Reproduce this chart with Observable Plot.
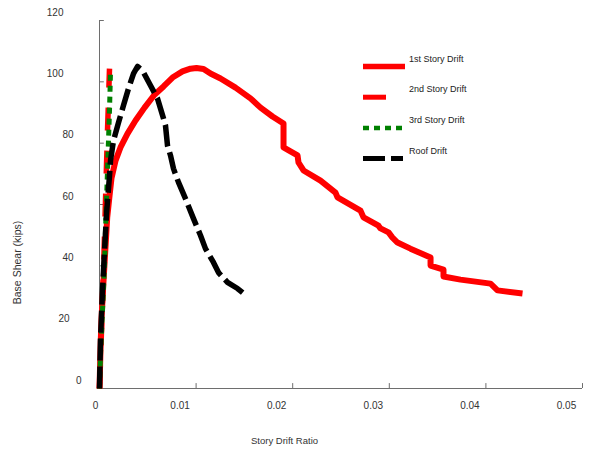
<!DOCTYPE html>
<html><head><meta charset="utf-8">
<script src="https://cdn.jsdelivr.net/npm/d3@7"></script>
<script src="https://cdn.jsdelivr.net/npm/@observablehq/plot@0.6"></script>
<style>
html,body{margin:0;padding:0;background:#fff;}
#wrap{position:relative;width:589px;height:450px;font-family:"Liberation Sans",Arial,sans-serif;}
#wrap svg{display:block;}
#legend{position:absolute;left:0;top:0;pointer-events:none;}
</style></head><body><div id="wrap"></div>
<script>
// ---- data ----
const seriesNames = ["1st Story Drift", "2nd Story Drift", "3rd Story Drift", "Roof Drift"];
const seriesColors = ["#ff0000", "#ff0000", "#008000", "#000000"];
const seriesDash = [null, "23,20", "6,5", "22,6"];
const seriesWidth = [6, 5.5, 5, 5.5];

const drift1 = [0, 0.0001, 0.0002, 0.0004, 0.0006, 0.0008, 0.00104, 0.00124, 0.00166, 0.00217, 0.0029, 0.00373, 0.00466, 0.00569, 0.00663, 0.00756, 0.00859, 0.00942, 0.01004, 0.01077, 0.01149, 0.01253, 0.01408, 0.01563, 0.01667, 0.01791, 0.01905, 0.01905, 0.01977, 0.0205, 0.0206, 0.02112, 0.02288, 0.02443, 0.02464, 0.02702, 0.02733, 0.02888, 0.02909, 0.02992, 0.03033, 0.03085, 0.03219, 0.03427, 0.03427, 0.03561, 0.03561, 0.03737, 0.04048, 0.0412, 0.04379];
const shear1 = [0, 12.4, 22.2, 34.2, 45.0, 55.8, 62.9, 68.5, 74.3, 78.6, 83.1, 87.4, 91.6, 95.8, 98.5, 101.4, 103.4, 104.3, 104.5, 104.2, 102.7, 101.1, 98.1, 94.6, 91.6, 88.7, 86.4, 78.6, 77.3, 76.0, 73.7, 71.1, 67.8, 63.9, 62.3, 58.0, 55.8, 53.1, 52.2, 50.9, 49.2, 47.6, 45.6, 42.7, 40.1, 38.8, 36.5, 35.5, 34.2, 32.0, 31.0];

const drift2 = [0, 0.000104, 0.000207, 0.000311, 0.000414, 0.000518, 0.000621, 0.000725, 0.000828, 0.000932, 0.001035];
const shear2 = [0, 9.1, 18.9, 28.7, 38.5, 49.9, 61.3, 72.7, 84.1, 93.9, 104.3];

const drift3 = [0, 0.000104, 0.000311, 0.000518, 0.000621, 0.000725, 0.000828, 0.000932, 0.001035, 0.001139];
const shear3 = [0, 10.8, 25.4, 40.1, 51.5, 61.3, 71.1, 80.9, 90.6, 103.0];

const drift4 = [0, 0.0001, 0.00031, 0.00052, 0.00072, 0.00083, 0.00104, 0.00114, 0.00145, 0.00197, 0.00248, 0.003, 0.00352, 0.00393, 0.00445, 0.00528, 0.006, 0.00663, 0.00683, 0.00704, 0.00735, 0.00766, 0.00818, 0.0089, 0.00973, 0.01046, 0.01097, 0.0118, 0.01232, 0.01325, 0.01429, 0.01491];
const shear4 = [0, 15.6, 32.0, 45.0, 56.4, 61.3, 69.5, 74.3, 80.9, 86.7, 92.3, 97.8, 102.7, 105.0, 103.7, 98.8, 94.6, 88.0, 85.8, 79.2, 76.0, 71.7, 67.2, 61.9, 55.4, 49.9, 45.6, 41.1, 37.8, 34.6, 32.6, 31.0];

const xTicks = [0, 0.01, 0.02, 0.03, 0.04, 0.05];
const yTicks = [0, 20, 40, 60, 80, 100, 120];
const xTitle = "Story Drift Ratio";
const yTitle = "Base Shear (kips)";

// ---- build ----
const driftSets = [drift1, drift2, drift3, drift4];
const shearSets = [shear1, shear2, shear3, shear4];
const tables = driftSets.map((xs, s) => xs.map((x, i) => ({series: seriesNames[s], drift: x, shear: shearSets[s][i]})));

const axisColor = "#6e6e6e";
const labelColor = "#333";
const fontFamily = "'Liberation Sans', Arial, sans-serif";

const lineMarks = tables.map((t, s) => Plot.line(t, {
  x: "drift", y: "shear",
  stroke: seriesColors[s], strokeWidth: seriesWidth[s],
  strokeDasharray: seriesDash[s] || undefined,
  strokeLinecap: "butt", strokeLinejoin: "round"
}));

const plot = Plot.plot({
  width: 589, height: 450,
  marginLeft: 99, marginRight: 7, marginTop: 20, marginBottom: 62,
  x: {domain: [0, 0.05]},
  y: {domain: [0, 120]},
  style: {fontFamily, background: "#fff", overflow: "visible"},
  marks: [
    Plot.ruleY([0], {stroke: axisColor}),
    Plot.ruleX([0], {stroke: axisColor}),
    Plot.ruleX(xTicks.slice(1), {x: d => d, y1: 0, y2: 1.6, stroke: axisColor}),
    Plot.ruleY(yTicks.slice(1), {y: d => d, x1: 0, x2: 0.0005, stroke: axisColor}),
    Plot.axisX(xTicks.filter(d => d === 0), {tickSize: 0, tickPadding: 13, dx: -4, fontSize: 10, fill: labelColor, label: null, tickFormat: d => String(d)}),
    Plot.axisX(xTicks.filter(d => d !== 0), {tickSize: 0, tickPadding: 13, dx: -16, fontSize: 10, fill: labelColor, label: null, tickFormat: d => String(d)}),
    Plot.axisY(yTicks.filter(d => d >= 100), {tickSize: 0, tickPadding: 36, dy: -8, fontSize: 10, fill: labelColor, label: null}),
    Plot.axisY(yTicks.filter(d => d >= 40 && d < 100), {tickSize: 0, tickPadding: 26, dy: -8, fontSize: 10, fill: labelColor, label: null}),
    Plot.axisY(yTicks.filter(d => d === 20), {tickSize: 0, tickPadding: 30, dy: -8, fontSize: 10, fill: labelColor, label: null}),
    Plot.axisY(yTicks.filter(d => d === 0), {tickSize: 0, tickPadding: 18, dy: -8, fontSize: 10, fill: labelColor, label: null}),
    Plot.text([xTitle], {text: d => d, frameAnchor: "bottom", textAnchor: "middle", lineAnchor: "middle", dx: -56.5, dy: 52, fontSize: 9.5, fill: labelColor}),
    Plot.text([yTitle], {text: d => d, frameAnchor: "left", textAnchor: "middle", lineAnchor: "middle", rotate: -90, dx: -82, dy: 58, fontSize: 10.5, fill: labelColor}),
    ...lineMarks
  ]
});

const wrap = document.getElementById("wrap");
wrap.appendChild(plot);

// ---- legend overlay ----
const legend = d3.select(wrap).append("svg")
  .attr("id", "legend").attr("width", 589).attr("height", 450);
const lgX = 363, lgLen = 42, lgY0 = 66.5, lgStep = 30.7;
const rowsG = legend.selectAll("g").data(seriesNames).join("g")
  .attr("transform", (d, i) => `translate(0,${lgY0 + i * lgStep})`);
rowsG.append("line")
  .attr("x1", lgX).attr("x2", (d, i) => lgX + (i >= 2 ? 40 : lgLen))
  .attr("y1", 0).attr("y2", 0)
  .attr("stroke", (d, i) => seriesColors[i])
  .attr("stroke-width", (d, i) => seriesWidth[i] - 0.5)
  .attr("stroke-dasharray", (d, i) => seriesDash[i])
  .attr("stroke-linecap", "butt");
rowsG.append("text")
  .attr("x", 409).attr("y", -5)
  .attr("font-size", 9).attr("font-family", fontFamily).attr("fill", "#222")
  .text(d => d);
</script></body></html>
